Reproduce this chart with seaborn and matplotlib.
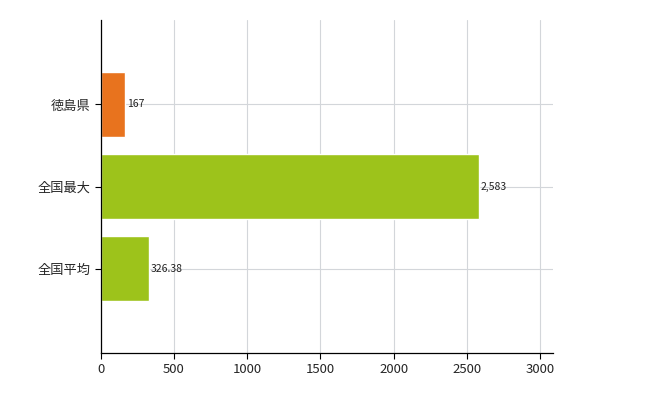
import matplotlib
matplotlib.use("Agg")
import matplotlib.pyplot as plt
import seaborn as sns
import pandas as pd

categories = ["徳島県", "全国最大", "全国平均"]
values = [167, 2583, 326.38]
labels = ["167", "2,583", "326.38"]
colors = ["#E8731E", "#9DC31B", "#9DC31B"]

sns.set_style("white")
plt.rcParams["font.family"] = ["Noto Sans CJK JP", "DejaVu Sans"]

df = pd.DataFrame({"cat": categories, "val": values})

fig = plt.figure(figsize=(6.5, 4), dpi=100)
ax = fig.add_axes([0.155, 0.1175, 0.696, 0.8325])
sns.barplot(data=df, x="val", y="cat", hue="cat", palette=colors, legend=False,
            width=0.8, saturation=1, ax=ax, zorder=2)

for i, (v, t) in enumerate(zip(values, labels)):
    ax.text(v + 12, i, t, va="center", ha="left", fontsize=7.5, color="#222222")

ax.set_xlim(0, 3090)
ax.set_ylim(2 + 1.03, -1.03)
ax.set_xticks([0, 500, 1000, 1500, 2000, 2500, 3000])
ax.grid(True, color="#D3D6DA", linewidth=0.8, zorder=0)
ax.set_axisbelow(True)
for s in ["top", "right"]:
    ax.spines[s].set_visible(False)
for s in ["left", "bottom"]:
    ax.spines[s].set_color("black")
    ax.spines[s].set_linewidth(0.9)
ax.tick_params(axis="both", length=4, color="black", labelsize=9.5, direction="out",
               left=True, bottom=True)
ax.set_xlabel("")
ax.set_ylabel("")

fig.savefig("out.png", dpi=100)
